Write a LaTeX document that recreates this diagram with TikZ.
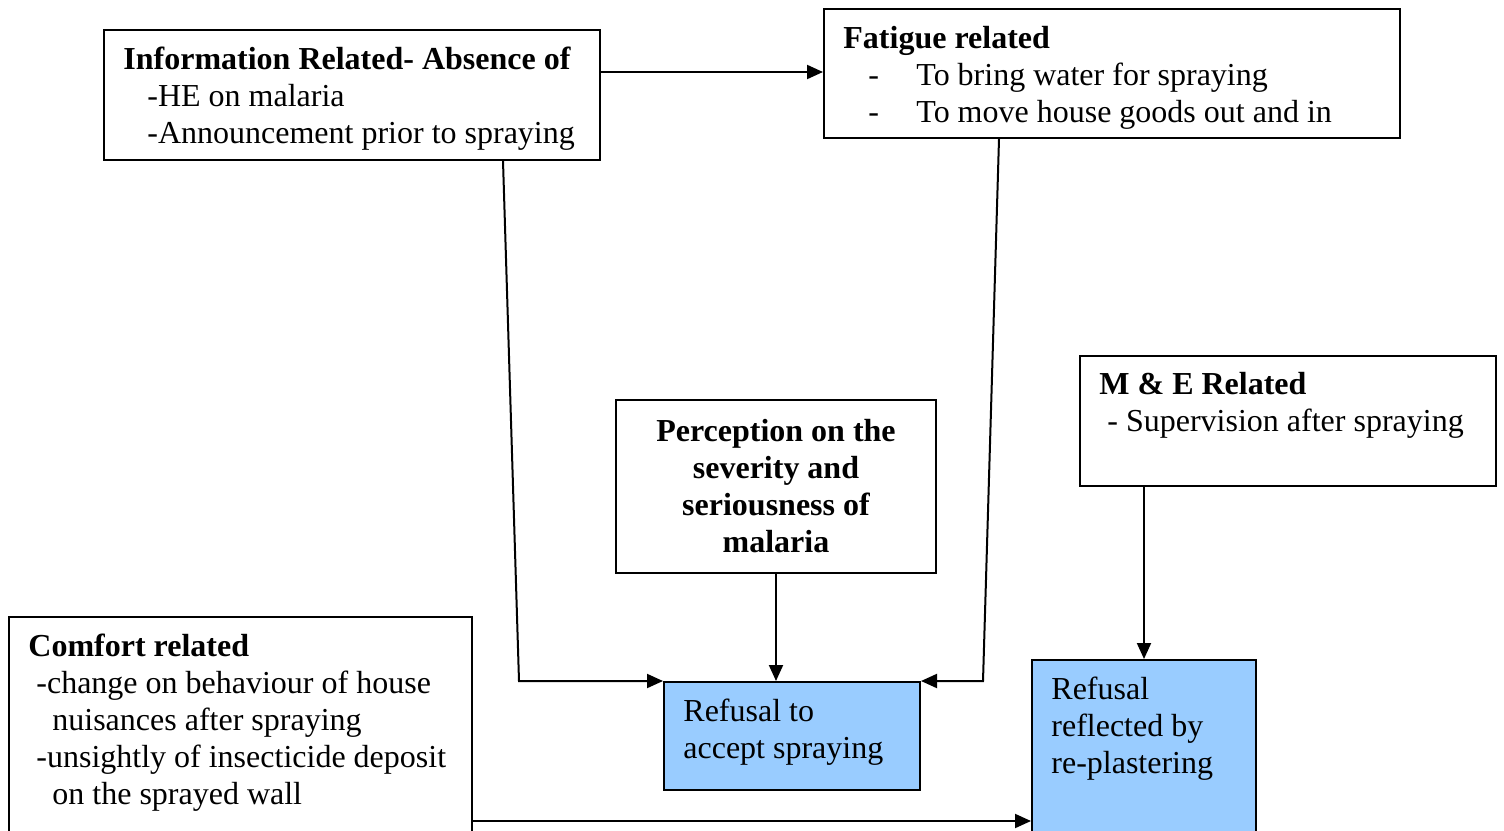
\documentclass[tikz,border=0pt]{standalone}
\usepackage{fontspec}
\setmainfont{Liberation Serif}
\usetikzlibrary{arrows.meta}
\definecolor{refblue}{HTML}{99CCFF}
\begin{document}
\begin{tikzpicture}[x=0.5pt,y=-0.5pt,
  box/.style={draw, line width=1pt, rectangle, inner sep=0pt, anchor=north west},
  txt/.style={anchor=base west, inner sep=0pt, font=\fontsize{16}{18.5}\selectfont},
  arr/.style={line width=1pt, -{Triangle[length=8pt,width=7pt]}}]
\useasboundingbox (0,0) rectangle (1504,830);
\clip (0,0) rectangle (1504,830);
% boxes
\node[box, minimum width=248pt, minimum height=65pt] (info) at (103,29) {};
\node[box, minimum width=288pt, minimum height=64.5pt] (fatigue) at (823,8) {};
\node[box, minimum width=208pt, minimum height=65pt] (me) at (1079,355) {};
\node[box, minimum width=160pt, minimum height=86.5pt, align=center,
      font=\fontsize{16}{18.5}\selectfont\bfseries] (percep) at (615,399)
      {Perception on the\\severity and\\seriousness of\\malaria};
\node[box, minimum width=231.5pt, minimum height=117pt] (comfort) at (8,616) {};
\node[box, fill=refblue, minimum width=128pt, minimum height=54pt] (refusal) at (663,681) {};
\node[box, fill=refblue, minimum width=112pt, minimum height=95.5pt] (replast) at (1031,659) {};
% texts
\node[txt, font=\fontsize{16}{18.5}\selectfont\bfseries] (t1) at (123,69) {Information Related- Absence of};
\node[txt] (t2) at (147,106) {-HE on malaria};
\node[txt] (t3) at (147,143) {-Announcement prior to spraying};
\node[txt, font=\fontsize{16}{18.5}\selectfont\bfseries] (f1) at (843,48) {Fatigue related};
\node[txt] (f2a) at (868,85) {-};
\node[txt] (f2) at (916,85) {To bring water for spraying};
\node[txt] (f3a) at (868,122) {-};
\node[txt] (f3) at (916,122) {To move house goods out and in};
\node[txt, font=\fontsize{16}{18.5}\selectfont\bfseries] (m1) at (1099,394) {M \& E Related};
\node[txt] (m2) at (1107,431) {- Supervision after spraying};
\node[txt, font=\fontsize{16}{18.5}\selectfont\bfseries] (c1) at (28,656) {Comfort related};
\node[txt] (c2) at (36,693) {-change on behaviour of house};
\node[txt] (c3) at (52,730) {nuisances after spraying};
\node[txt] (c4) at (36,767) {-unsightly of insecticide deposit};
\node[txt] (c5) at (52,804) {on the sprayed wall};
\node[txt] (r1) at (683,721) {Refusal to};
\node[txt] (r2) at (683,758) {accept spraying};
\node[txt] (p1) at (1051,699) {Refusal};
\node[txt] (p2) at (1051,736) {reflected by};
\node[txt] (p3) at (1051,773) {re-plastering};
% helper coordinates
\coordinate (yA) at (0,72);
\coordinate (yB) at (0,821);
\coordinate (xI) at (503,0);
\coordinate (bI) at (519,681);
\coordinate (xF) at (999,0);
\coordinate (bF) at (983,681);
% connectors
\draw[arr] (info.east |- yA) -- (fatigue.west |- yA);
\draw[arr] (info.south -| xI) -- (bI) -- (refusal.north west);
\draw[arr] (fatigue.south -| xF) -- (bF) -- (refusal.north east);
\draw[arr] (percep.south) -- (percep.south |- refusal.north);
\draw[arr] (replast.north |- me.south) -- (replast.north);
\draw[arr] (comfort.east |- yB) -- (replast.west |- yB);
\end{tikzpicture}
\end{document}
